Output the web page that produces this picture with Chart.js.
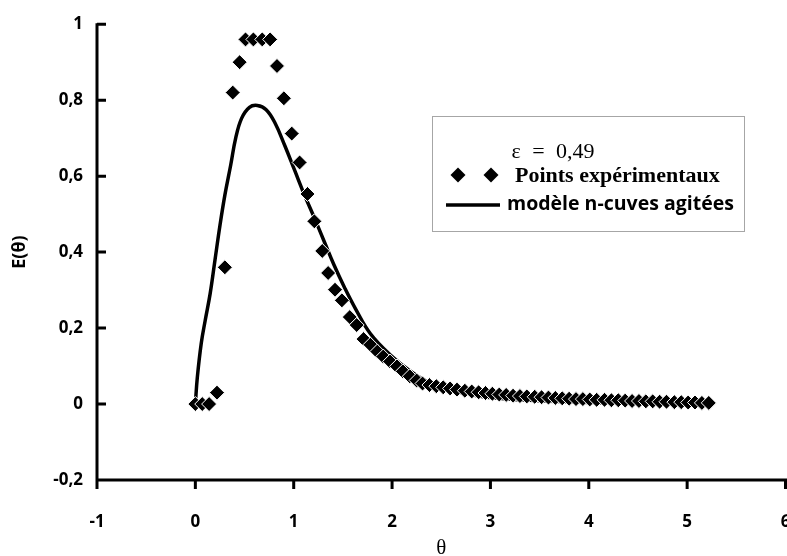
<!DOCTYPE html>
<html>
<head>
<meta charset="utf-8">
<script src="https://cdn.jsdelivr.net/npm/chart.js@4.4.1/dist/chart.umd.min.js"></script>
<style>
  html, body { margin: 0; padding: 0; background: #fff; overflow: hidden; }
  #wrap { width: 787px; height: 556px; overflow: hidden; }
</style>
</head>
<body>
<div id="wrap"><canvas id="rtdChart" width="794" height="556"></canvas></div>
<script>
// experimental points (theta, E(theta))
const thetaExp = [0, 0.07, 0.14, 0.22, 0.30, 0.38, 0.45, 0.51, 0.59, 0.68, 0.76, 0.83, 0.90, 0.98,
  1.06, 1.14, 1.21, 1.29, 1.35, 1.42, 1.49, 1.57, 1.64, 1.71, 1.78, 1.85, 1.91, 1.98,
  2.05, 2.11, 2.18, 2.25, 2.31, 2.38, 2.45, 2.52, 2.59, 2.66, 2.74, 2.81, 2.88, 2.95,
  3.02, 3.09, 3.16, 3.23, 3.30, 3.37, 3.45, 3.52, 3.59, 3.66, 3.73, 3.80, 3.87, 3.94,
  4.01, 4.08, 4.16, 4.23, 4.30, 4.37, 4.44, 4.51, 4.58, 4.65, 4.72, 4.79, 4.87, 4.94,
  5.01, 5.08, 5.15, 5.22];
const eExp = [0, 0, 0, 0.03, 0.36, 0.82, 0.90, 0.96, 0.96, 0.96, 0.96, 0.89, 0.805, 0.712,
  0.636, 0.553, 0.481, 0.403, 0.345, 0.301, 0.273, 0.229, 0.208, 0.171, 0.156, 0.138, 0.125, 0.112,
  0.099, 0.086, 0.073, 0.062, 0.054, 0.05, 0.047, 0.044, 0.041, 0.038, 0.035, 0.033, 0.031, 0.029,
  0.027, 0.025, 0.024, 0.022, 0.021, 0.02, 0.019, 0.018, 0.017, 0.016, 0.015, 0.014, 0.013, 0.013,
  0.012, 0.011, 0.011, 0.010, 0.010, 0.009, 0.008, 0.008, 0.007, 0.007, 0.006, 0.006, 0.005, 0.005,
  0.004, 0.004, 0.003, 0.003];

// model curve (n stirred tanks)
const thetaModel = [0, 0.02, 0.06, 0.10, 0.15, 0.20, 0.25, 0.30, 0.36, 0.41, 0.47, 0.55, 0.63,
  0.72, 0.81, 0.91, 1.01, 1.11, 1.21, 1.31, 1.41, 1.52, 1.63, 1.78, 1.98, 2.19, 2.39, 2.6, 2.8,
  3.0, 3.3, 3.6, 4.0, 4.5, 5.0, 5.22];
const eModel = [0, 0.07, 0.16, 0.22, 0.29, 0.38, 0.47, 0.55, 0.63, 0.70, 0.752, 0.781, 0.786,
  0.775, 0.74, 0.68, 0.615, 0.55, 0.49, 0.428, 0.366, 0.305, 0.25, 0.185, 0.13, 0.086, 0.055, 0.036, 0.025,
  0.017, 0.011, 0.007, 0.004, 0.002, 0.001, 0.001];

const seriesNames = ["Points expérimentaux", "modèle n-cuves agitées"];
const epsilonLabel = "ε = 0,49";
const xTickLabels = ["-1", "0", "1", "2", "3", "4", "5", "6"];
const yTickLabels = ["-0,2", "0", "0,2", "0,4", "0,6", "0,8", "1"];

const expPoints = thetaExp.map((t, i) => ({ x: t, y: eExp[i] }));
const modelPoints = thetaModel.map((t, i) => ({ x: t, y: eModel[i] }));

function diamond(ctx, x, y, r) {
  ctx.beginPath();
  ctx.moveTo(x, y - r);
  ctx.lineTo(x + r, y);
  ctx.lineTo(x, y + r);
  ctx.lineTo(x - r, y);
  ctx.closePath();
  ctx.fill();
}

// axis lines and tick marks (y ticks point inward), plus the framed legend
const extras = {
  id: "extras",
  afterDraw(chart) {
    const ctx = chart.ctx;
    const xs = chart.scales.x;
    const ys = chart.scales.y;
    const area = chart.chartArea;
    ctx.save();
    ctx.strokeStyle = "#000";
    ctx.lineWidth = 3;
    ctx.lineCap = "butt";
    ctx.beginPath();
    ctx.moveTo(area.left, area.top - 1);
    ctx.lineTo(area.left, area.bottom + 9);
    ctx.moveTo(area.left - 1.5, area.bottom);
    ctx.lineTo(area.right + 2, area.bottom);
    ys.ticks.forEach(t => {
      const py = ys.getPixelForValue(t.value);
      ctx.moveTo(area.left, py);
      ctx.lineTo(area.left + 9, py);
    });
    xs.ticks.forEach(t => {
      const px = xs.getPixelForValue(t.value);
      ctx.moveTo(px, area.bottom);
      ctx.lineTo(px, area.bottom + 9);
    });
    ctx.stroke();

    // legend box
    ctx.fillStyle = "#fff";
    ctx.fillRect(432, 116, 312, 115);
    ctx.strokeStyle = "#a6a6a6";
    ctx.lineWidth = 1;
    ctx.strokeRect(432.5, 116.5, 312, 115);

    ctx.fillStyle = "#000";
    ctx.textBaseline = "middle";
    ctx.textAlign = "center";
    ctx.font = '22px "Liberation Serif"';
    ctx.wordSpacing = "6px";
    ctx.fillText(epsilonLabel, 553, 152);
    ctx.wordSpacing = "0px";

    diamond(ctx, 458, 175, 7.5);
    diamond(ctx, 491, 175, 7.5);
    ctx.textAlign = "left";
    ctx.font = 'bold 22px "Liberation Serif"';
    ctx.fillText(chart.data.datasets[0].label, 515, 176);

    ctx.strokeStyle = "#000";
    ctx.lineWidth = 3.5;
    ctx.beginPath();
    ctx.moveTo(446, 205);
    ctx.lineTo(500, 205);
    ctx.stroke();
    ctx.font = 'bold 19.5px "Open Sans"';
    ctx.fillText(chart.data.datasets[1].label, 507, 204);
    ctx.restore();
  }
};

new Chart("rtdChart", {
  type: "scatter",
  data: {
    datasets: [{
      label: seriesNames[0],
      data: expPoints,
      pointStyle: "rectRot",
      pointRadius: 7.5,
      pointHoverRadius: 7.5,
      backgroundColor: "#000",
      borderColor: "#fff",
      borderWidth: 1,
      showLine: false
    }, {
      label: seriesNames[1],
      data: modelPoints,
      showLine: true,
      borderColor: "#000",
      borderWidth: 3.5,
      pointRadius: 0,
      tension: 0.4,
      fill: false
    }]
  },
  options: {
    responsive: false,
    animation: false,
    devicePixelRatio: 1,
    layout: { padding: { top: 18, right: 1, left: 0, bottom: 0 } },
    plugins: {
      legend: { display: false },
      tooltip: { enabled: false }
    },
    scales: {
      x: {
        type: "linear",
        min: -1,
        max: 6,
        ticks: {
          stepSize: 1,
          color: "#000",
          padding: 32,
          font: { family: "Open Sans", weight: "bold", size: 17 },
          callback: (v, i) => xTickLabels[i]
        },
        grid: { display: false, drawTicks: false },
        border: { display: false },
        title: {
          display: true,
          text: "θ",
          color: "#000",
          font: { family: "Liberation Serif", size: 21, lineHeight: 0.8 },
          padding: { top: 0, bottom: -1 }
        },
        afterFit(s) {
          s.height = 76;
          s.paddingLeft = 0;
          s.paddingRight = 0;
        }
      },
      y: {
        type: "linear",
        min: -0.2,
        max: 1,
        ticks: {
          stepSize: 0.2,
          color: "#000",
          padding: 14,
          font: { family: "Open Sans", weight: "bold", size: 17 },
          callback: (v, i) => yTickLabels[i]
        },
        grid: { display: false, drawTicks: false },
        border: { display: false },
        title: {
          display: true,
          text: "E(θ)",
          color: "#000",
          font: { family: "Open Sans", weight: "bold", size: 18 },
          padding: { top: 9, bottom: 0 }
        },
        afterFit(s) {
          s.width = 97;
        }
      }
    }
  },
  plugins: [extras]
});
</script>
</body>
</html>
